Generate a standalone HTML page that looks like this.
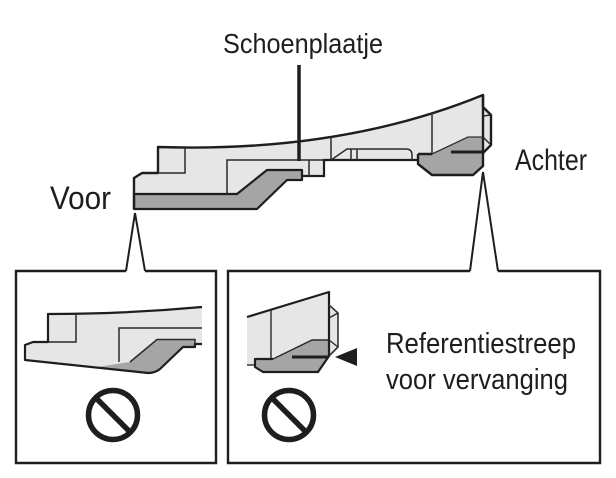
<!DOCTYPE html>
<html><head><meta charset="utf-8"><style>
html,body{margin:0;padding:0;background:#fff;}
svg{display:block;}
text{font-family:"Liberation Sans",sans-serif;fill:#1e1e1e;}
</style></head><body>
<svg width="616" height="478" viewBox="0 0 616 478" xmlns="http://www.w3.org/2000/svg">
<rect width="616" height="478" fill="#fff"/>

<!-- Labels -->
<text x="223" y="53" font-size="28" textLength="160" lengthAdjust="spacingAndGlyphs">Schoenplaatje</text>
<text x="50" y="209" font-size="32" textLength="61" lengthAdjust="spacingAndGlyphs">Voor</text>
<text x="515" y="170" font-size="30" textLength="72" lengthAdjust="spacingAndGlyphs">Achter</text>
<text x="386" y="353" font-size="29" textLength="190" lengthAdjust="spacingAndGlyphs">Referentiestreep</text>
<text x="386" y="389" font-size="29" textLength="182" lengthAdjust="spacingAndGlyphs">voor vervanging</text>

<!-- Main shoe light body -->
<path d="M158,147 Q341,153 483,95 L483,107 L491,115 L491,145 L483,153 L483,166 L473,175 L432,175 L418,164 L418,160 L324,160 L324,176 L302,176 L302,180 L287,180 L257,209 L134,209 L134,178 L142,173 L158,173 Z" fill="#e6e6e6" stroke="none"/>
<!-- gray front -->
<path d="M134,194 L237,194 L267,170 L302,170 L302,180 L287,180 L257,209 L134,209 Z" fill="#a5a5a5" stroke="#1e1e1e" stroke-width="2.2" stroke-linejoin="round"/>
<!-- gray heel -->
<path d="M418,154 L432,154 L468,137 L483,137 L483,166 L473,175 L432,175 L418,164 Z" fill="#a5a5a5" stroke="none"/>
<path d="M432,154 L468,137 L483,137" fill="none" stroke="#333" stroke-width="1.3"/>
<path d="M418,154 L432,154 M483,153 L483,166 L473,175 L432,175 L418,164 L418,154" fill="none" stroke="#1e1e1e" stroke-width="2.4" stroke-linejoin="round"/>
<!-- main outline -->
<path d="M483,153 L491,145 L491,115 L483,107 L483,95 Q341,153 158,147 L158,173 L142,173 L134,178 L134,209" fill="none" stroke="#1e1e1e" stroke-width="2.4" stroke-linejoin="round"/>
<path d="M418,160 L324,160 L324,176 L302,176" fill="none" stroke="#1e1e1e" stroke-width="2.2"/>
<path d="M483,95 L483,153" fill="none" stroke="#1e1e1e" stroke-width="2.4"/>
<!-- inner lines -->
<g fill="none" stroke="#2a2a2a" stroke-width="1.5">
<path d="M185,147 L185,173 L158,173"/>
<path d="M227,194 L227,160 L324,160"/>
<path d="M309,160 L309,176"/>
<path d="M331,137 L331,160"/>
<path d="M331,160 L347,149 L406,149 Q412,149 412,155 L412,160"/>
<path d="M351,149 L351,160 M357,149 L357,160"/>
<path d="M432,113 L432,154"/>
<path d="M483,116 L491,115 M483,137 L491,145"/>
</g>
<!-- reference line main -->
<path d="M451,152 L483,152" stroke="#1e1e1e" stroke-width="3"/>
<!-- pole -->
<path d="M299,65 L299,161" stroke="#1e1e1e" stroke-width="3.5"/>

<!-- connectors -->
<path d="M126,271 L135,213 L145,271" fill="none" stroke="#1e1e1e" stroke-width="2"/>
<path d="M470,271 L483,172 L498,271" fill="none" stroke="#1e1e1e" stroke-width="2"/>

<!-- boxes -->
<path d="M126,271 L16,271 L16,463 L216,463 L216,271 L145,271" fill="none" stroke="#1e1e1e" stroke-width="2.4"/>
<path d="M470,271 L228,271 L228,463 L600,463 L600,271 L498,271" fill="none" stroke="#1e1e1e" stroke-width="2.4"/>

<!-- left insert -->
<path d="M48,314 Q125,314 202,307 L202,344 L195,344 L195,347 L183,347 L160,369 Q155,373 148,373 L25,360 L25,345 L33,342 L48,342 Z" fill="#e6e6e6" stroke="none"/>
<path d="M95,367.4 L130,362 L157,339.5 L195,339.5 L195,347 L183,347 L160,369 Q155,373 148,373 Z" fill="#a5a5a5" stroke="none"/>
<path d="M202,307 Q125,314 48,314 L48,342 L33,342 L25,345 L25,360 L148,373 Q155,373 160,369 L183,347 L195,347 L195,344 L202,344" fill="none" stroke="#1e1e1e" stroke-width="2.2" stroke-linejoin="round"/>
<g fill="none" stroke="#2a2a2a" stroke-width="1.5">
<path d="M76,314 L76,342 L48,342"/>
<path d="M119,362 L119,328 L202,328"/>
<path d="M130,362 L157,339.5 L195,339.5 L195,344"/>
</g>
<circle cx="113" cy="415" r="24.5" fill="none" stroke="#1e1e1e" stroke-width="5.5"/>
<path d="M95.7,397.7 L130.3,432.3" stroke="#1e1e1e" stroke-width="5.5"/>

<!-- right insert -->
<path d="M247,317 L329,292 L329,305 L338,313 L338,347 L329,356 L318,372 L263,372 L255,367 L255,365 L247,365 Z" fill="#e6e6e6" stroke="none"/>
<path d="M255,359 L273,359 L312,340 L329,340 L329,356 L318,372 L263,372 L255,367 Z" fill="#a5a5a5" stroke="none"/>
<path d="M247,317 L329,292 L329,356 L318,372 L263,372 L255,367 L255,359 L273,359" fill="none" stroke="#1e1e1e" stroke-width="2.2" stroke-linejoin="round"/>
<path d="M329,305 L338,313 L338,347 L329,356" fill="none" stroke="#333" stroke-width="1.6"/>
<g fill="none" stroke="#2a2a2a" stroke-width="1.4">
<path d="M271,310 L271,359"/>
<path d="M273,359 L312,340 L329,340"/>
<path d="M329,318 L338,313 M329,340 L338,347"/>
<path d="M247,365 L255,365"/>
</g>
<path d="M292,357 L329,357" stroke="#1e1e1e" stroke-width="3"/>
<polygon points="335,357 357,348 357,366" fill="#1e1e1e"/>
<circle cx="289" cy="415" r="24.5" fill="none" stroke="#1e1e1e" stroke-width="5.5"/>
<path d="M271.7,397.7 L306.3,432.3" stroke="#1e1e1e" stroke-width="5.5"/>
</svg>
</body></html>
